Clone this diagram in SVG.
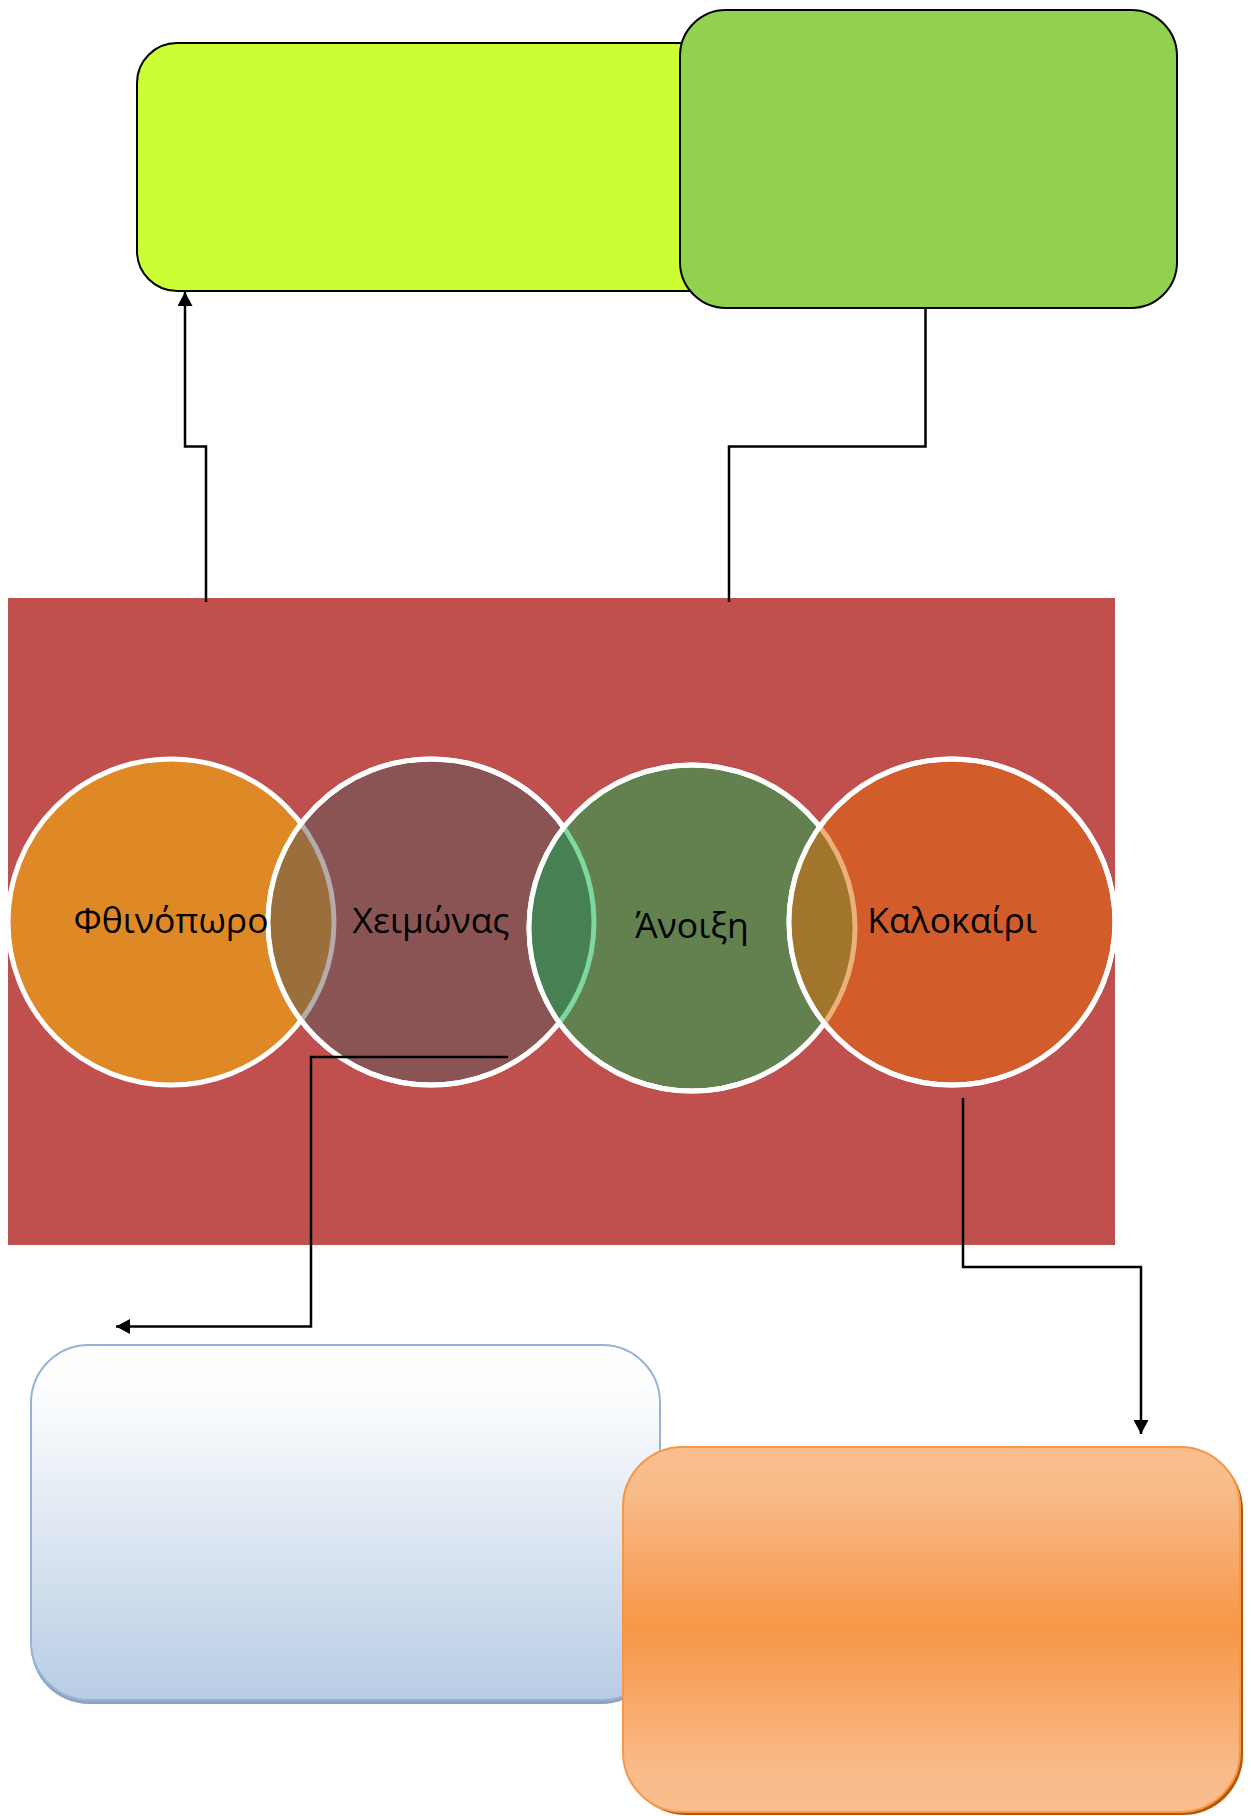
<svg xmlns="http://www.w3.org/2000/svg" width="1251" height="1816" viewBox="0 0 1251 1816">
<style>
.box{stroke:#000;stroke-width:2}
.ring{fill:none;stroke:#fff;stroke-width:5}
.lbl{font-family:"Open Sans","Noto Sans","DejaVu Sans",sans-serif;font-size:35.5px;fill:#000;text-anchor:middle}
.con{fill:none;stroke:#000;stroke-width:2.5}
</style>
<defs>
<marker id="arr" viewBox="0 0 14 15" refX="14" refY="7.5" markerWidth="14" markerHeight="15" markerUnits="userSpaceOnUse" orient="auto">
<path d="M0,0 L14,7.5 L0,15 Z" fill="#000"/>
</marker>
<linearGradient id="gBlue" x1="0" y1="0" x2="0" y2="1">
<stop offset="0" stop-color="#FFFFFF"/>
<stop offset="0.15" stop-color="#FBFCFD"/>
<stop offset="1" stop-color="#B8CCE4"/>
</linearGradient>
<linearGradient id="gOrange" x1="0" y1="0" x2="0" y2="1">
<stop offset="0" stop-color="#F9BE8E"/>
<stop offset="0.1" stop-color="#F9BD8C"/>
<stop offset="0.5" stop-color="#F69747"/>
<stop offset="0.9" stop-color="#F9BC8C"/>
<stop offset="1" stop-color="#F9BE8E"/>
</linearGradient>
<clipPath id="c2"><circle cx="431" cy="922" r="163"/></clipPath>
<clipPath id="c3"><circle cx="692" cy="928" r="163"/></clipPath>
<clipPath id="c4"><circle cx="952" cy="922" r="163"/></clipPath>
</defs>

<g id="box-yellow">
<rect x="137" y="43" width="700" height="248" rx="40" ry="40" fill="#CBFF33" class="box"/>
</g>
<g id="box-green">
<rect x="680" y="10" width="497" height="298" rx="46" ry="46" fill="#92D050" class="box"/>
</g>

<g id="venn">
<rect x="8" y="598" width="1107" height="647" fill="#C0504D"/>
<g id="season-autumn">
<circle cx="171" cy="922" r="163" class="ring" style="fill:#DF8926"/>
</g>
<g id="season-winter">
<circle cx="431" cy="922" r="163" class="ring" style="fill:#8B5454"/>
<g clip-path="url(#c2)">
<circle cx="171" cy="922" r="163" style="fill:#9A6F3C;stroke:#B4ABAB;stroke-width:5"/>
</g>
<circle cx="431" cy="922" r="163" class="ring"/>
</g>
<g id="season-spring">
<circle cx="692" cy="928" r="163" class="ring" style="fill:#62814F"/>
<g clip-path="url(#c3)">
<circle cx="431" cy="922" r="163" style="fill:#468053;stroke:#7FD7A0;stroke-width:5"/>
</g>
<circle cx="692" cy="928" r="163" class="ring"/>
</g>
<g id="season-summer">
<circle cx="952" cy="922" r="163" class="ring" style="fill:#D25D2B"/>
<g clip-path="url(#c4)">
<circle cx="692" cy="928" r="163" style="fill:#A1752C;stroke:#EBB07C;stroke-width:5"/>
</g>
<circle cx="952" cy="922" r="163" class="ring"/>
</g>
<text class="lbl" x="171" y="933">Φθινόπωρο</text>
<text class="lbl" x="431" y="933">Χειμώνας</text>
<text class="lbl" x="692" y="938">Άνοιξη</text>
<text class="lbl" x="952" y="933">Καλοκαίρι</text>
</g>

<g id="box-blue">
<rect x="31" y="1349" width="629" height="355" rx="58" ry="58" fill="#8EA3C0"/>
<rect x="31" y="1345" width="629" height="355" rx="58" ry="58" fill="url(#gBlue)" stroke="#95B3D7" stroke-width="2"/>
</g>
<g id="box-orange">
<rect x="626" y="1450" width="617" height="365" rx="60" ry="60" fill="#B65708"/>
<rect x="623" y="1447" width="617" height="365" rx="60" ry="60" fill="url(#gOrange)" stroke="#F79646" stroke-width="2"/>
</g>

<g id="connectors">
<path class="con" d="M206,602 V446.5 H185 V292" marker-end="url(#arr)"/>
<path class="con" d="M925.5,308 V446.5 H729 V602"/>
<path class="con" d="M508,1057 H311 V1326.5 H116" marker-end="url(#arr)"/>
<path class="con" d="M963,1098 V1267 H1141 V1434" marker-end="url(#arr)"/>
</g>
</svg>
